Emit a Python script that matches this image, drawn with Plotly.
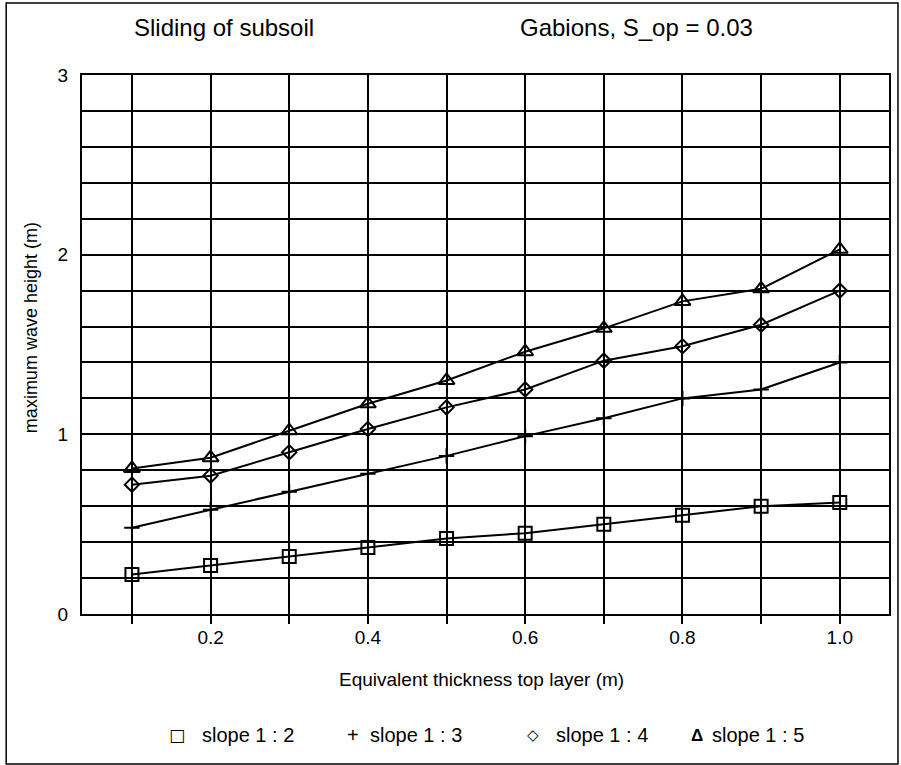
import plotly.graph_objects as go

# Equivalent thickness of the top layer (m)
thickness = [0.1, 0.2, 0.3, 0.4, 0.5, 0.6, 0.7, 0.8, 0.9, 1.0]

# Maximum wave height (m) per slope
slope_1_2 = [0.22, 0.27, 0.32, 0.37, 0.42, 0.45, 0.50, 0.55, 0.60, 0.62]
slope_1_3 = [0.48, 0.58, 0.68, 0.78, 0.88, 0.99, 1.09, 1.20, 1.25, 1.40]
slope_1_4 = [0.72, 0.77, 0.90, 1.03, 1.15, 1.25, 1.41, 1.49, 1.61, 1.80]
slope_1_5 = [0.81, 0.87, 1.02, 1.17, 1.30, 1.46, 1.59, 1.74, 1.81, 2.03]

series_names = ["slope 1 : 2", "slope 1 : 3", "slope 1 : 4", "slope 1 : 5"]
series_values = [slope_1_2, slope_1_3, slope_1_4, slope_1_5]
legend_glyphs = ["<b>\u25a1</b>", "+", "<b>\u25c7</b>", "<b>\u0394</b>"]

x_tick_vals = [0.1, 0.2, 0.3, 0.4, 0.5, 0.6, 0.7, 0.8, 0.9, 1.0]
x_tick_text = ["", "0.2", "", "0.4", "", "0.6", "", "0.8", "", "1.0"]
y_tick_vals = [round(0.2 * i, 1) for i in range(16)]
y_tick_text = [("%d" % v) if abs(v - round(v)) < 1e-9 else "" for v in y_tick_vals]

FONT = "Liberation Sans, Arial, sans-serif"
W, H = 901, 765
ML, MR, MT, MB = 82, 10, 75, 151
PW, PH = W - ML - MR, H - MT - MB


def px(x):
    return (x - ML) / PW


def py(y):
    return (H - MB - y) / PH


symbols = ["square-open", "cross-thin-open", "diamond-open", "triangle-up-open"]
sizes = [13, 11, 11, 14]

fig = go.Figure()
for name, vals, sym, sz in zip(series_names, series_values, symbols, sizes):
    fig.add_trace(go.Scatter(
        x=thickness, y=vals, name=name, mode="lines+markers",
        line=dict(color="black", width=2),
        marker=dict(symbol=sym, size=sz, color="black",
                    line=dict(color="black", width=2)),
        showlegend=False,
    ))

annotations = [
    dict(text="Sliding of subsoil", x=px(224), y=py(27), xref="paper", yref="paper",
         showarrow=False, font=dict(size=24, family=FONT, color="black"),
         xanchor="center", yanchor="middle"),
    dict(text="Gabions, S_op = 0.03", x=px(638), y=py(27), xref="paper", yref="paper",
         showarrow=False, font=dict(size=24, family=FONT, color="black"),
         xanchor="center", yanchor="middle"),
    dict(text="Equivalent thickness top layer (m)", x=px(482), y=py(679),
         xref="paper", yref="paper", showarrow=False,
         font=dict(size=19, family=FONT, color="black"),
         xanchor="center", yanchor="middle"),
    dict(text="maximum wave height (m)", x=px(31), y=py(328), xref="paper", yref="paper",
         showarrow=False, textangle=-90, font=dict(size=18, family=FONT, color="black"),
         xanchor="center", yanchor="middle"),
]

# legend row drawn as glyph + label pairs
glyph_x = [177, 354, 534, 699]
glyph_size = [17, 20, 15, 17]
glyph_font = ["DejaVu Sans", FONT, "DejaVu Sans", FONT]
label_x = [200, 369, 555, 712]
for g, gx, gs, gf, lbl, lx in zip(legend_glyphs, glyph_x, glyph_size, glyph_font,
                                  series_names, label_x):
    annotations.append(dict(text=g, x=px(gx), y=py(735), xref="paper", yref="paper",
                            showarrow=False, font=dict(size=gs, family=gf, color="black"),
                            xanchor="center", yanchor="middle"))
    annotations.append(dict(text=lbl, x=px(lx), y=py(735), xref="paper", yref="paper",
                            showarrow=False, font=dict(size=20, family=FONT, color="black"),
                            xanchor="left", yanchor="middle"))

fig.update_layout(
    width=W, height=H,
    margin=dict(l=ML, r=MR, t=MT, b=MB),
    paper_bgcolor="white", plot_bgcolor="white",
    font=dict(family=FONT, size=19, color="black"),
    annotations=annotations,
    shapes=[dict(type="rect", xref="paper", yref="paper",
                 x0=px(6), x1=px(900), y0=py(764), y1=py(3),
                 line=dict(color="black", width=1.5), fillcolor="rgba(0,0,0,0)", layer="below")],
    xaxis=dict(range=[0.0365, 1.0626], tickvals=x_tick_vals, ticktext=x_tick_text,
               showgrid=True, gridcolor="black", gridwidth=1.5,
               ticks="outside", ticklen=8, tickwidth=1.5, tickcolor="black",
               showline=True, linecolor="black", linewidth=2, mirror=True,
               zeroline=False, ticklabelstandoff=-3, tickfont=dict(size=19, family=FONT)),
    yaxis=dict(range=[0, 3], tickvals=y_tick_vals, ticktext=y_tick_text,
               showgrid=True, gridcolor="black", gridwidth=1.5,
               ticks="", showline=True, linecolor="black", linewidth=2, mirror=True,
               zeroline=False, ticklabelstandoff=8, tickfont=dict(size=19, family=FONT)),
)

fig.write_html("out.html")
